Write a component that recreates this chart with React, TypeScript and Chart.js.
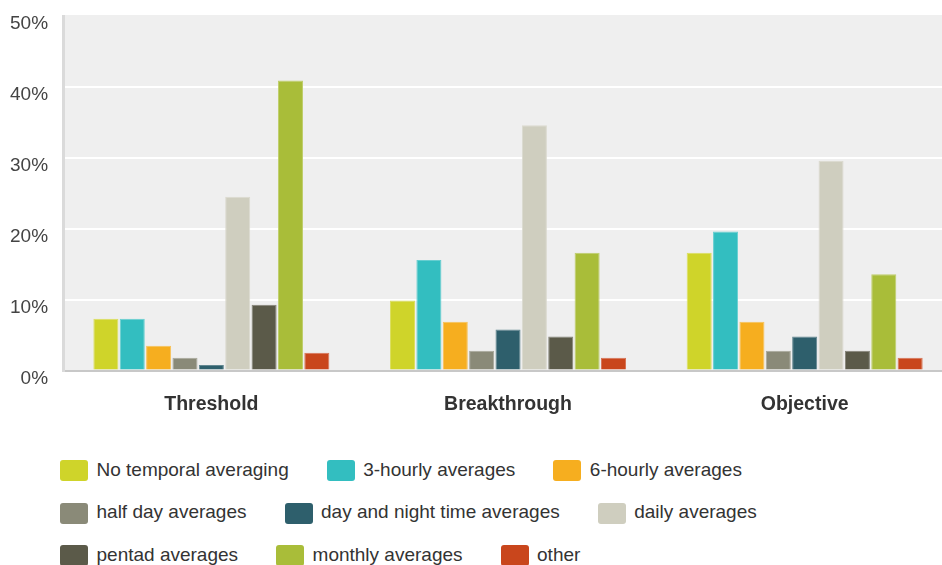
import React, { useEffect, useRef } from 'react';
import { Chart, registerables } from 'chart.js';

Chart.register(...registerables);

const categories = ['Threshold', 'Breakthrough', 'Objective'];

const seriesNames = [
  'No temporal averaging',
  '3-hourly averages',
  '6-hourly averages',
  'half day averages',
  'day and night time averages',
  'daily averages',
  'pentad averages',
  'monthly averages',
  'other',
];

const seriesColors = [
  '#cfd42a',
  '#33bec0',
  '#f6ae1f',
  '#8a8a78',
  '#2e5f6c',
  '#cfcebf',
  '#5b5a49',
  '#a9bd39',
  '#c9461c',
];

const noTemporalAveraging = [7.3, 9.9, 16.6];
const threeHourly = [7.3, 15.6, 19.6];
const sixHourly = [3.5, 6.9, 6.9];
const halfDay = [1.8, 2.8, 2.8];
const dayAndNight = [0.8, 5.8, 4.8];
const daily = [24.5, 34.6, 29.6];
const pentad = [9.3, 4.8, 2.8];
const monthly = [40.9, 16.6, 13.6];
const other = [2.5, 1.8, 1.8];

const seriesValues = [
  noTemporalAveraging,
  threeHourly,
  sixHourly,
  halfDay,
  dayAndNight,
  daily,
  pentad,
  monthly,
  other,
];

const yTickValues = [0, 10, 20, 30, 40, 50];

const FONT = "'Liberation Sans', Arial, sans-serif";

function lighten(hex: string, amt: number): string {
  const n = parseInt(hex.slice(1), 16);
  const r = (n >> 16) & 255;
  const g = (n >> 8) & 255;
  const b = n & 255;
  const m = (c: number) => Math.round(c + (255 - c) * amt);
  return `rgb(${m(r)},${m(g)},${m(b)})`;
}

const plotBackground = {
  id: 'plotBackground',
  beforeDraw(chart: any) {
    const { ctx, chartArea } = chart;
    ctx.save();
    ctx.fillStyle = '#efefef';
    ctx.fillRect(chartArea.left, chartArea.top - 1, chartArea.right - chartArea.left, chartArea.bottom - chartArea.top + 1);
    ctx.restore();
  },
};

export default function App() {
  const canvasRef = useRef<HTMLCanvasElement | null>(null);

  useEffect(() => {
    if (!canvasRef.current) return;
    const chart = new Chart(canvasRef.current, {
      type: 'bar',
      data: {
        labels: categories,
        datasets: seriesNames.map((name, i) => ({
          label: name,
          data: seriesValues[i],
          backgroundColor: seriesColors[i],
          borderColor: lighten(seriesColors[i], 0.25),
          borderWidth: 1,
          categoryPercentage: 0.8,
          barPercentage: 0.95,
        })),
      },
      options: {
        animation: false,
        responsive: false,
        layout: { padding: { left: 10, right: 7, top: 0, bottom: 5 } },
        plugins: {
          legend: { display: false },
          tooltip: { enabled: false },
        },
        scales: {
          x: {
            grid: { display: false, drawTicks: false },
            border: { display: true, color: '#c8c8c8', width: 2 },
            ticks: {
              padding: 22,
              color: '#333333',
              font: { family: FONT, size: 19.5, weight: 'bold' },
            },
          },
          y: {
            min: 0,
            max: 50,
            afterBuildTicks: (scale: any) => {
              scale.ticks = yTickValues.map((v) => ({ value: v }));
            },
            grid: {
              drawTicks: false,
              lineWidth: 2,
              color: (ctx: any) =>
                ctx.tick && (ctx.tick.value === 50 || ctx.tick.value === 0) ? 'rgba(0,0,0,0)' : '#ffffff',
            },
            border: { display: true, color: '#dadada', width: 3 },
            ticks: {
              padding: 15,
              color: '#444444',
              font: { family: FONT, size: 19, lineHeight: '16px' },
              callback: (v: any) => ['', `${v}%`],
            },
          },
        },
      },
      plugins: [plotBackground],
    } as any);
    return () => chart.destroy();
  }, []);

  return (
    <div
      style={{
        position: 'absolute',
        left: 0,
        top: 0,
        width: 942,
        height: 565,
        overflow: 'hidden',
        background: '#ffffff',
      }}
    >
      <canvas
        ref={canvasRef}
        width={975}
        height={458}
        style={{ display: 'block', position: 'absolute', left: -15, top: -15 }}
      />
      <div
        style={{
          position: 'absolute',
          left: 60,
          top: 460,
          width: 880,
          display: 'flex',
          flexWrap: 'wrap',
          columnGap: 38,
          rowGap: 21.5,
        }}
      >
        {seriesNames.map((name, i) => (
          <div key={name} style={{ display: 'flex', alignItems: 'center', height: 21 }}>
            <span
              style={{
                display: 'inline-block',
                width: 28,
                height: 21,
                borderRadius: 3,
                background: seriesColors[i],
                marginRight: 8.5,
              }}
            />
            <span
              style={{
                fontFamily: FONT,
                fontSize: 19,
                color: '#333333',
                whiteSpace: 'nowrap',
                position: 'relative',
                top: -1,
              }}
            >
              {name}
            </span>
          </div>
        ))}
      </div>
    </div>
  );
}
